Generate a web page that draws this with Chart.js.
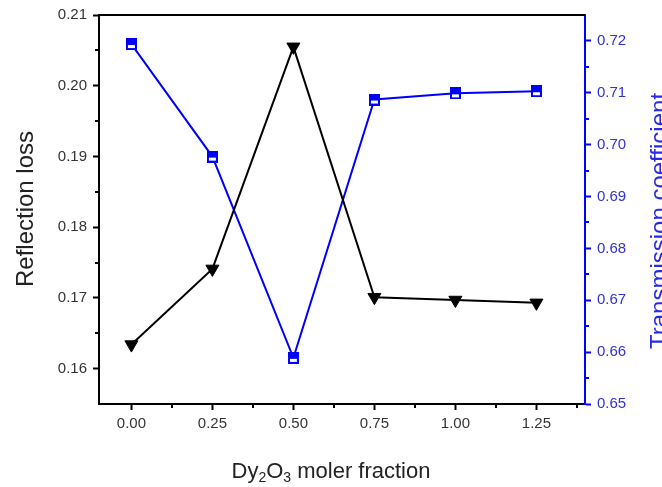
<!DOCTYPE html>
<html>
<head>
  <title>Reflection loss / Transmission coefficient</title>
  <style>
    html, body { margin: 0; padding: 0; background: #fff; }
    .chart-box { width: 662px; height: 487px; position: relative; }
  </style>
</head>
<body>
  <div class="chart-box"><canvas id="chart"></canvas></div>

  <script src="https://cdn.jsdelivr.net/npm/chart.js"></script>
  <script>
    // data
    const fractions = [0.00, 0.25, 0.50, 0.75, 1.00, 1.25];
    const reflectionLoss = [0.1634, 0.1741, 0.2055, 0.1701, 0.1697, 0.1693];
    const transmission = [0.7194, 0.6977, 0.6589, 0.7087, 0.7099, 0.7103];

    // tick labels
    const xTicks = [0.00, 0.25, 0.50, 0.75, 1.00, 1.25];
    const leftTicks = [0.16, 0.17, 0.18, 0.19, 0.20, 0.21];
    const rightTicks = [0.65, 0.66, 0.67, 0.68, 0.69, 0.70, 0.71, 0.72];
    const xMinor = [0.125, 0.375, 0.625, 0.875, 1.125, 1.375];
    const leftMinor = [0.165, 0.175, 0.185, 0.195, 0.205];
    const rightMinor = [0.655, 0.665, 0.675, 0.685, 0.695, 0.705, 0.715];

    const FONT = "'Liberation Sans', Arial, sans-serif";
    const BLUE = '#0000ff';

    // half filled square marker (Origin style)
    const makeSquare = () => {
      let c = document.createElement('canvas');
      c.width = 11; c.height = 12;
      let g = c.getContext('2d');
      g.fillStyle = BLUE;
      g.fillRect(0, 0, 11, 12);
      g.fillStyle = '#fff';
      g.fillRect(2, 7, 7, 3);
      return c;
    };

    // minor ticks, top frame line, axis titles
    const framePlugin = {
      id: 'frame',
      afterDraw(chart) {
        let ctx = chart.ctx;
        let a = chart.chartArea;
        let sx = chart.scales.x, sy = chart.scales.y, sy2 = chart.scales.y2;
        ctx.save();
        ctx.lineWidth = 2;
        ctx.strokeStyle = '#000';
        ctx.beginPath();
        ctx.moveTo(a.left - 1, a.top);
        ctx.lineTo(a.right, a.top);
        ctx.stroke();

        ctx.beginPath();
        xMinor.forEach(v => {
          let px = Math.round(sx.getPixelForValue(v));
          ctx.moveTo(px, a.bottom);
          ctx.lineTo(px, a.bottom + 4);
        });
        leftMinor.forEach(v => {
          let py = Math.round(sy.getPixelForValue(v));
          ctx.moveTo(a.left, py);
          ctx.lineTo(a.left - 4, py);
        });
        ctx.stroke();
        ctx.strokeStyle = BLUE;
        ctx.beginPath();
        rightMinor.forEach(v => {
          let py = Math.round(sy2.getPixelForValue(v));
          ctx.moveTo(a.right, py);
          ctx.lineTo(a.right + 4, py);
        });
        ctx.stroke();

        // axis titles
        ctx.fillStyle = '#222';
        ctx.font = '24px ' + FONT;
        ctx.textAlign = 'center';
        ctx.textBaseline = 'alphabetic';
        ctx.save();
        ctx.translate(33, 209);
        ctx.rotate(-Math.PI / 2);
        ctx.fillText('Reflection loss', 0, 0);
        ctx.restore();

        ctx.fillStyle = '#2a2ae0';
        ctx.save();
        ctx.translate(667, 221);
        ctx.rotate(-Math.PI / 2);
        ctx.fillText('Transmission coefficient', 0, 0);
        ctx.restore();

        // x title with subscripts
        let parts = [['Dy', 0], ['2', 1], ['O', 0], ['3', 1], [' moler fraction', 0]];
        let big = '22px ' + FONT, small = '14px ' + FONT;
        let total = 0;
        parts.forEach(p => { ctx.font = p[1] ? small : big; total += ctx.measureText(p[0]).width; });
        let x = 331 - total / 2;
        ctx.fillStyle = '#222';
        ctx.textAlign = 'left';
        parts.forEach(p => {
          ctx.font = p[1] ? small : big;
          ctx.fillText(p[0], x, p[1] ? 482 : 478);
          x += ctx.measureText(p[0]).width;
        });
        ctx.restore();
      }
    };

    let ctx = document.getElementById('chart').getContext('2d');

    let chart = new Chart(ctx, {
      type: 'line',
      data: {
        datasets: [{
          label: 'Reflection loss',
          data: fractions.map((f, i) => ({ x: f, y: reflectionLoss[i] })),
          yAxisID: 'y',
          borderColor: '#000',
          borderWidth: 2,
          pointStyle: 'triangle',
          rotation: 180,
          pointRadius: 7.5,
          pointBackgroundColor: '#000',
          pointBorderColor: '#000',
          pointBorderWidth: 1,
          tension: 0,
          clip: false
        }, {
          label: 'Transmission coefficient',
          data: fractions.map((f, i) => ({ x: f, y: transmission[i] })),
          yAxisID: 'y2',
          borderColor: BLUE,
          borderWidth: 2,
          pointStyle: makeSquare(),
          pointRadius: 6,
          tension: 0,
          clip: false
        }]
      },
      options: {
        responsive: true,
        maintainAspectRatio: false,
        animation: false,
        layout: { padding: { top: 15, left: 0, right: 0, bottom: 0 } },
        plugins: { legend: { display: false }, tooltip: { enabled: false } },
        scales: {
          x: {
            type: 'linear',
            min: -0.1,
            max: 1.4,
            afterBuildTicks: s => { s.ticks = xTicks.map(v => ({ value: v })); },
            afterFit: s => { s.height = 83; },
            ticks: {
              callback: v => v.toFixed(2),
              color: '#333',
              font: { family: FONT, size: 15 },
              padding: 5,
              maxRotation: 0,
              autoSkip: false
            },
            grid: { drawOnChartArea: false, tickLength: 6, tickWidth: 2, tickColor: '#000' },
            border: { color: '#000', width: 2 }
          },
          y: {
            position: 'left',
            min: 0.155,
            max: 0.21,
            afterBuildTicks: s => { s.ticks = leftTicks.map(v => ({ value: v })); },
            afterFit: s => { s.width = 99; },
            ticks: {
              callback: v => v.toFixed(2),
              color: '#333',
              font: { family: FONT, size: 15 },
              padding: 6
            },
            grid: { drawOnChartArea: false, tickLength: 6, tickWidth: 2, tickColor: '#000' },
            border: { color: '#000', width: 2 }
          },
          y2: {
            position: 'right',
            min: 0.65,
            max: 0.725,
            afterBuildTicks: s => { s.ticks = rightTicks.map(v => ({ value: v })); },
            afterFit: s => { s.width = 77; },
            ticks: {
              callback: v => v.toFixed(2),
              color: '#3030d8',
              font: { family: FONT, size: 15 },
              padding: 6
            },
            grid: { drawOnChartArea: false, tickLength: 6, tickWidth: 2, tickColor: BLUE },
            border: { color: BLUE, width: 2 }
          }
        }
      },
      plugins: [framePlugin]
    });
  </script>
</body>
</html>
